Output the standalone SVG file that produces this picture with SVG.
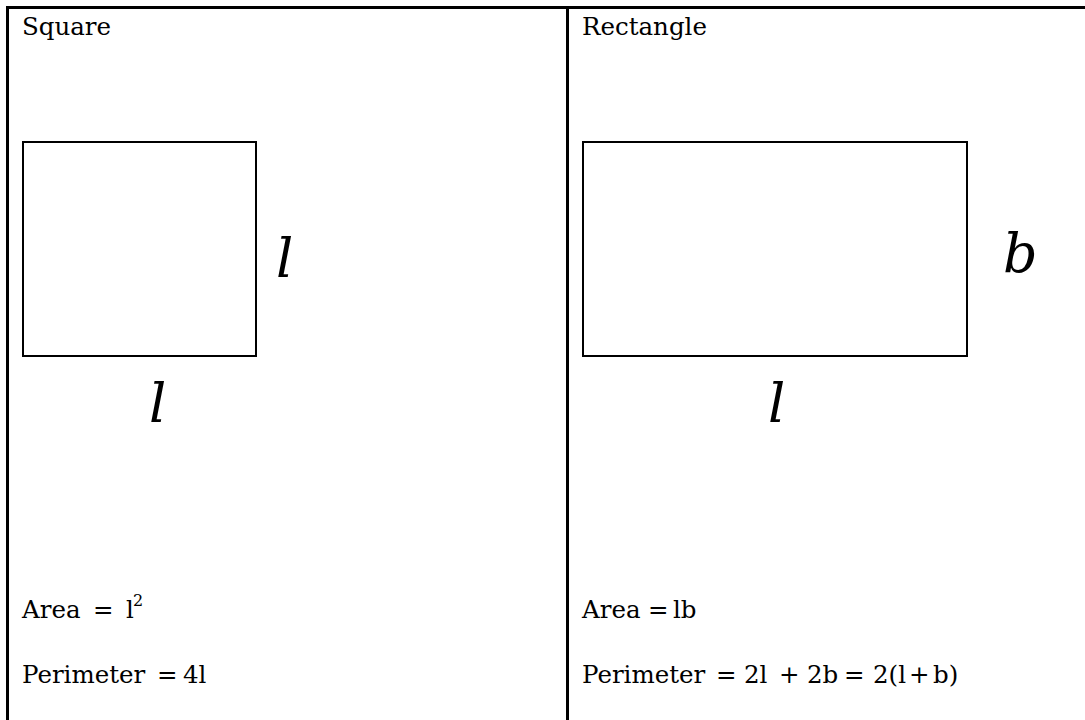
<svg xmlns="http://www.w3.org/2000/svg" width="1085" height="720" viewBox="0 0 1085 720">
<style>
.t{font-family:"DejaVu Serif","Liberation Serif",serif;font-size:24.5px;fill:#000}
.m{font-family:"DejaVu Serif","Liberation Serif",serif;font-style:italic;font-size:54px;fill:#000}
.b{fill:none;stroke:#000;stroke-width:2}
.g{stroke:#000;stroke-width:3;fill:none}
</style>
<rect width="1085" height="720" fill="#fff"/>
<g id="table">
<line class="g" x1="6" y1="7.5" x2="1085" y2="7.5"/>
<line class="g" x1="7.5" y1="6" x2="7.5" y2="720"/>
<line class="g" x1="567.5" y1="6" x2="567.5" y2="720"/>
</g>
<g id="square">
<text class="t" x="22" y="35">Square</text>
<rect class="b" x="23" y="142" width="233" height="214"/>
<text class="m" x="276" y="277">l</text>
<text class="m" x="149" y="422">l</text>
<text class="t" x="22" y="618">Area<tspan x="93">=</tspan><tspan x="126">l</tspan><tspan x="133" y="606" font-size="16">2</tspan></text>
<text class="t" x="22" y="683">Perimeter<tspan x="157">=</tspan><tspan x="183">4l</tspan></text>
</g>
<g id="rectangle">
<text class="t" x="582" y="35">Rectangle</text>
<rect class="b" x="583" y="142" width="384" height="214"/>
<text class="m" x="1003" y="272">b</text>
<text class="m" x="768" y="422">l</text>
<text class="t" x="582" y="618">Area<tspan x="648">=</tspan><tspan x="673">lb</tspan></text>
<text class="t" x="582" y="683">Perimeter<tspan x="716">=</tspan><tspan x="744">2l</tspan><tspan x="779">+</tspan><tspan x="807">2b</tspan><tspan x="844">=</tspan><tspan x="873">2(l</tspan><tspan x="909">+</tspan><tspan x="933">b)</tspan></text>
</g>
</svg>
